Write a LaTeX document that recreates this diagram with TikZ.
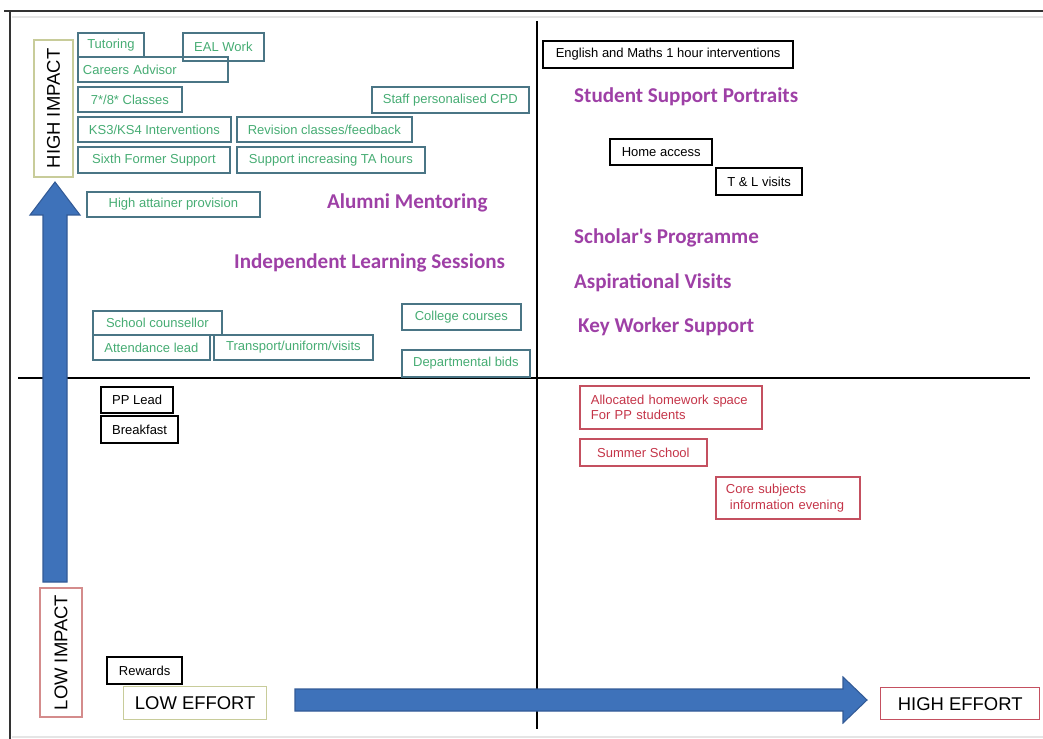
\documentclass[tikz,border=0pt]{standalone}
\usepackage{fontspec}
\setmainfont{Liberation Sans}
\newfontfamily\calibri{Carlito}
\usepackage{tikz}

\definecolor{tealedge}{RGB}{74,117,133}
\definecolor{greentxt}{RGB}{70,172,115}
\definecolor{rededge}{RGB}{196,80,96}
\definecolor{redtxt}{RGB}{196,52,72}
\definecolor{oliveedge}{RGB}{200,204,154}
\definecolor{pinkedge}{RGB}{212,140,140}
\definecolor{mauve}{RGB}{158,64,166}
\definecolor{arrowfill}{RGB}{62,114,186}
\definecolor{arrowline}{RGB}{50,90,150}

\begin{document}
\begin{tikzpicture}[x=0.02cm,y=-0.02cm,
    wh/.style 2 args={minimum width=#1*0.02cm,minimum height=#2*0.02cm},
    box/.style={draw,anchor=north west,inner sep=0,line width=1pt,font=\fontsize{7.4}{9}\selectfont},
    gbox/.style={box,draw=tealedge,text=greentxt},
    kbox/.style={box,draw=black,line width=1.3pt},
    rbox/.style={box,draw=rededge,text=redtxt},
    axisbox/.style={draw,inner sep=0,line width=0.8pt,font=\fontsize{10.5}{12}\selectfont},
    bigtext/.style={anchor=west,text=mauve,font=\calibri\bfseries\fontsize{12}{14}\selectfont}]
  \useasboundingbox (0,0) rectangle (1043,739);
  % frame
  \draw[line width=1.6pt,black!80] (4,11) -- (1043,11);
  \draw[line width=1.6pt,black!80] (10,11) -- (10,739);
  \draw[black!10,line width=0.8pt] (12,17) -- (1043,17) (12,737) -- (1043,737);
  % quadrants
  \draw[line width=1.4pt] (537,21) -- (537,729);
  \draw[line width=1.4pt] (18,378) -- (1030,378);
  % axes
  \fill[arrowfill,draw=arrowline,line width=0.6pt] (43,582) -- (43,215) -- (30,215) -- (55,182) -- (80,215) -- (67,215) -- (67,582) -- cycle;
  \fill[arrowfill,draw=arrowline,line width=0.6pt] (295,689) -- (843,689) -- (843,677) -- (867,700) -- (843,723) -- (843,711) -- (295,711) -- cycle;
  \node[axisbox,draw=oliveedge,rotate=90,wh={137}{39}] (highimp) at (53.5,108.5) {HIGH IMPACT};
  \node[axisbox,draw=pinkedge,rotate=90,wh={129}{42}] (lowimp) at (61,652.5) {LOW IMPACT};
  \node[axisbox,draw=oliveedge,anchor=north west,wh={143}{33}] (loweff) at (123,686) {LOW EFFORT};
  \node[axisbox,draw=rededge,anchor=north west,wh={159}{32}] (higheff) at (880,687) {HIGH EFFORT};

  % high impact, low effort
  \node[gbox,wh={66}{24}] (tutor) at (77,32) {Tutoring};
  \node[gbox,wh={81}{28}] (eal) at (182,32) {EAL Work};
  \node[gbox,wh={150}{25},text width=2.8cm,align=left,inner xsep=0.1cm] (careers) at (77,56) {Careers Advisor};
  \node[gbox,wh={104}{25}] (classes) at (77,86) {7*/8* Classes};
  \node[gbox,wh={157}{26}] (cpd) at (371,86) {Staff personalised CPD};
  \node[gbox,wh={153}{25}] (ks) at (77,116) {KS3/KS4 Interventions};
  \node[gbox,wh={175}{25}] (revision) at (236,116) {Revision classes/feedback};
  \node[gbox,wh={152}{26}] (sixth) at (77,146) {Sixth Former Support};
  \node[gbox,wh={188}{26}] (tahours) at (236,146) {Support increasing TA hours};
  \node[gbox,wh={173}{25}] (highatt) at (86,191) {High attainer provision};
  \node[gbox,wh={129}{24}] (counsellor) at (92,310) {School counsellor};
  \node[gbox,wh={117}{25}] (attendance) at (92,334) {Attendance lead};
  \node[gbox,wh={159}{25}] (transport) at (213,334) {Transport/uniform/visits};
  \node[gbox,wh={119}{26}] (college) at (401,303) {College courses};
  \node[gbox,wh={128}{27}] (deptbids) at (401,349) {Departmental bids};
  \node[bigtext] (alumni) at (321,203) {Alumni Mentoring};
  \node[bigtext] (ils) at (228,263) {Independent Learning Sessions};

  % high impact, high effort
  \node[kbox,wh={250}{27}] (engmaths) at (542,40) {English and Maths 1 hour interventions};
  \node[kbox,wh={102}{26}] (home) at (609,138) {Home access};
  \node[kbox,wh={86}{27}] (tlvisits) at (715,167) {T \& L visits};
  \node[bigtext] (portraits) at (568,97) {Student Support Portraits};
  \node[bigtext] (scholars) at (568,238) {Scholar's Programme};
  \node[bigtext] (aspire) at (568,283) {Aspirational Visits};
  \node[bigtext] (keyworker) at (572,327) {Key Worker Support};

  % low impact
  \node[kbox,wh={72}{26}] (pplead) at (100,386) {PP Lead};
  \node[kbox,wh={77}{27}] (breakfast) at (100,415) {Breakfast};
  \node[kbox,wh={75}{27}] (rewards) at (106,656) {Rewards};
  \node[rbox,wh={182}{43},text width=3.2cm,align=left,inner xsep=0.22cm] (homework) at (579,385) {Allocated homework space\\For PP students};
  \node[rbox,wh={127}{27}] (summer) at (579,438) {Summer School};
  \node[rbox,wh={144}{42},text width=2.48cm,align=left,inner xsep=0.2cm] (coresubj) at (715,476) {Core subjects\\\hspace*{0.08cm}information evening};
\end{tikzpicture}
\end{document}
